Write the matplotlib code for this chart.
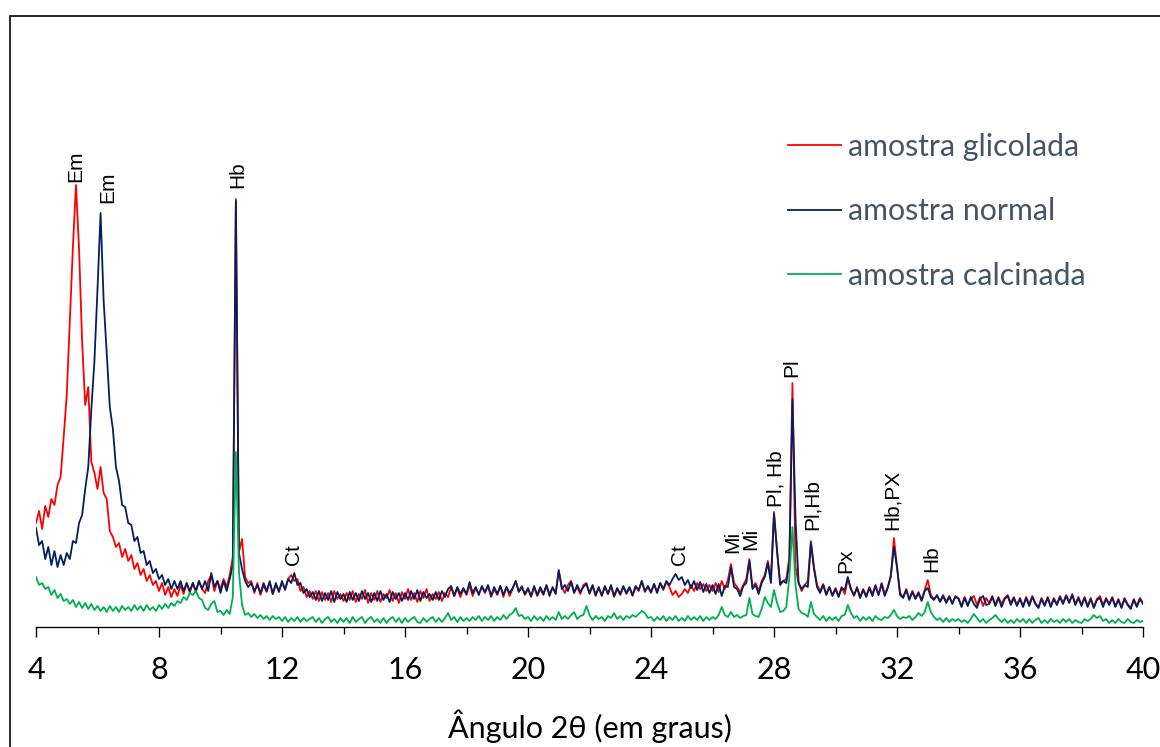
import numpy as np
import matplotlib
matplotlib.use("Agg")
import matplotlib.pyplot as plt
from matplotlib.patches import Rectangle
from matplotlib.ticker import MultipleLocator

# 2-theta scan, 0.1 degree step from 4 to 40 degrees
two_theta = np.round(np.arange(4.0, 40.0001, 0.1), 1)

# Intensities (arbitrary units), one row per degree
glicolada = [
    104, 116, 98, 121, 110, 128, 122, 142, 150, 190,    # 4
    232, 305, 380, 442, 378, 285, 222, 240, 165, 154,   # 5
    138, 160, 134, 128, 96, 90, 80, 84, 70, 78,         # 6
    66, 72, 58, 64, 52, 58, 46, 52, 42, 46,             # 7
    36, 44, 32, 40, 30, 38, 31, 42, 33, 44,             # 8
    34, 44, 35, 46, 38, 34, 46, 52, 36, 46,             # 9
    38, 48, 40, 52, 70, 428, 75, 88, 50, 44,            # 10
    46, 34, 44, 32, 42, 35, 46, 33, 42, 36,             # 11
    44, 38, 48, 52, 46, 48, 36, 40, 30, 36,             # 12
    28, 36, 26, 35, 27, 34, 25, 36, 28, 33,             # 13
    26, 34, 27, 36, 25, 33, 28, 37, 24, 34,             # 14
    27, 36, 25, 33, 29, 37, 26, 34, 24, 35,             # 15
    28, 38, 27, 34, 25, 36, 29, 38, 26, 33,             # 16
    28, 35, 26, 34, 30, 40, 31, 39, 30, 38,             # 17
    32, 42, 31, 39, 33, 40, 34, 41, 30, 38,             # 18
    32, 41, 30, 40, 31, 38, 46, 36, 41, 32,             # 19
    38, 30, 40, 31, 38, 32, 41, 33, 39, 34,             # 20
    56, 40, 34, 42, 46, 35, 40, 33, 42, 44,             # 21
    33, 41, 31, 39, 32, 40, 33, 41, 30, 38,             # 22
    32, 40, 33, 39, 31, 40, 36, 46, 35, 40,             # 23
    34, 43, 35, 44, 37, 45, 40, 32, 36, 30,             # 24
    33, 38, 34, 42, 36, 44, 38, 43, 36, 42,             # 25
    36, 44, 35, 46, 38, 47, 63, 44, 40, 35,             # 26
    42, 48, 68, 40, 44, 36, 46, 52, 66, 48,             # 27
    115, 77, 44, 46, 48, 70, 244, 60, 44, 36,           # 28
    42, 46, 86, 60, 42, 36, 43, 33, 40, 32,             # 29
    39, 31, 40, 33, 48, 38, 31, 40, 30, 38,             # 30
    31, 40, 33, 42, 32, 44, 33, 40, 50, 89,             # 31
    60, 34, 30, 38, 28, 36, 29, 35, 27, 37,             # 32
    47, 32, 28, 31, 26, 32, 25, 31, 24, 30,             # 33
    29, 21, 30, 22, 28, 31, 22, 30, 21, 29,             # 34
    24, 31, 22, 30, 23, 29, 32, 24, 30, 22,             # 35
    29, 21, 30, 23, 31, 24, 20, 29, 22, 30,             # 36
    21, 29, 23, 31, 24, 32, 25, 33, 23, 30,             # 37
    22, 30, 21, 29, 20, 28, 31, 22, 29, 23,             # 38
    30, 21, 28, 20, 29, 23, 19, 28, 21, 29,             # 39
    24,                                                 # 40
]

normal = [
    99, 82, 86, 68, 80, 62, 76, 60, 72, 62,             # 4
    74, 68, 86, 84, 104, 112, 138, 160, 218, 266,       # 5
    338, 414, 326, 274, 220, 198, 160, 146, 122, 120,   # 6
    104, 102, 86, 90, 74, 76, 62, 66, 54, 58,           # 7
    48, 52, 42, 48, 38, 46, 38, 46, 36, 44,             # 8
    36, 44, 36, 46, 38, 46, 36, 54, 40, 46,             # 9
    34, 46, 36, 48, 62, 426, 74, 58, 46, 40,            # 10
    44, 36, 42, 34, 44, 36, 45, 33, 44, 35,             # 11
    46, 37, 48, 44, 54, 42, 44, 34, 38, 30,             # 12
    35, 27, 36, 26, 34, 27, 36, 25, 35, 28,             # 13
    33, 25, 35, 27, 34, 26, 36, 28, 34, 25,             # 14
    34, 26, 36, 27, 33, 25, 35, 28, 34, 26,             # 15
    34, 27, 36, 28, 37, 26, 35, 29, 33, 27,             # 16
    35, 27, 36, 30, 38, 41, 31, 40, 33, 39,             # 17
    33, 45, 34, 40, 32, 41, 35, 42, 31, 40,             # 18
    33, 41, 32, 40, 34, 39, 46, 35, 40, 33,             # 19
    39, 31, 41, 32, 40, 33, 42, 31, 40, 33,             # 20
    57, 38, 42, 36, 45, 34, 42, 35, 40, 43,             # 21
    34, 42, 32, 40, 31, 41, 33, 42, 31, 39,             # 22
    33, 41, 34, 40, 32, 41, 37, 46, 36, 41,             # 23
    35, 43, 34, 44, 38, 46, 42, 48, 53, 47,             # 24
    50, 42, 47, 39, 46, 37, 45, 35, 43, 34,             # 25
    42, 33, 43, 31, 41, 40, 60, 40, 38, 31,             # 26
    41, 44, 66, 38, 42, 33, 44, 50, 64, 44,             # 27
    113, 75, 42, 46, 44, 64, 228, 108, 44, 38,          # 28
    42, 40, 84, 58, 40, 34, 42, 32, 40, 31,             # 29
    38, 30, 39, 37, 50, 38, 32, 39, 29, 37,             # 30
    30, 39, 31, 41, 32, 43, 31, 39, 52, 80,             # 31
    60, 32, 29, 37, 27, 35, 28, 34, 26, 36,             # 32
    39, 30, 27, 32, 25, 31, 24, 30, 23, 31,             # 33
    28, 20, 29, 21, 30, 23, 19, 28, 31, 22,             # 34
    23, 30, 21, 29, 20, 28, 31, 22, 29, 21,             # 35
    28, 20, 29, 21, 30, 23, 19, 28, 21, 29,             # 36
    20, 28, 22, 30, 23, 31, 24, 32, 22, 29,             # 37
    21, 29, 20, 28, 19, 27, 29, 20, 28, 22,             # 38
    29, 20, 27, 19, 28, 22, 18, 27, 20, 28,             # 39
    23,                                                 # 40
]

calcinada = [
    50, 42, 44, 38, 40, 32, 37, 29, 33, 26,             # 4
    28, 23, 27, 20, 25, 19, 24, 18, 23, 17,             # 5
    21, 16, 20, 15, 21, 16, 20, 15, 21, 17,             # 6
    20, 16, 22, 17, 21, 16, 22, 17, 20, 16,             # 7
    22, 18, 23, 19, 24, 21, 26, 24, 30, 27,             # 8
    34, 32, 36, 29, 27, 19, 17, 23, 26, 15,             # 9
    16, 12, 17, 13, 30, 175, 55, 22, 12, 14,            # 10
    10, 13, 9, 12, 8, 11, 7, 11, 8, 10,                 # 11
    6, 10, 5, 9, 6, 10, 5, 9, 6, 8,                     # 12
    10, 5, 9, 4, 8, 10, 5, 8, 4, 9,                     # 13
    5, 9, 4, 10, 5, 8, 10, 4, 8, 10,                    # 14
    5, 8, 4, 9, 4, 8, 10, 5, 9, 4,                      # 15
    9, 5, 8, 10, 5, 4, 9, 5, 8, 10,                     # 16
    5, 9, 5, 9, 14, 7, 10, 5, 10, 6,                    # 17
    9, 6, 10, 7, 11, 6, 10, 7, 11, 6,                   # 18
    10, 7, 12, 8, 12, 14, 19, 11, 12, 8,                # 19
    10, 6, 11, 7, 10, 6, 11, 7, 10, 7,                  # 20
    15, 8, 11, 8, 12, 15, 8, 11, 12, 21,                # 21
    12, 7, 11, 8, 10, 6, 11, 9, 14, 8,                  # 22
    11, 7, 11, 9, 12, 10, 13, 16, 14, 9,                # 23
    10, 6, 10, 7, 11, 6, 10, 7, 11, 6,                  # 24
    9, 6, 11, 7, 10, 7, 11, 6, 10, 7,                   # 25
    10, 8, 12, 20, 12, 10, 15, 10, 12, 9,               # 26
    11, 12, 29, 13, 11, 10, 18, 30, 24, 20,             # 27
    37, 24, 15, 16, 20, 50, 100, 42, 18, 14,            # 28
    13, 10, 25, 13, 10, 7, 11, 6, 10, 7,                # 29
    10, 6, 11, 12, 22, 14, 9, 11, 6, 10,                # 30
    7, 10, 6, 11, 8, 7, 10, 9, 12, 17,                  # 31
    11, 8, 10, 9, 11, 7, 10, 14, 11, 15,                # 32
    25, 15, 10, 7, 9, 5, 9, 5, 8, 6,                    # 33
    8, 5, 7, 4, 8, 13, 9, 5, 8, 4,                      # 34
    7, 9, 12, 8, 5, 8, 4, 7, 4, 8,                      # 35
    5, 8, 4, 8, 4, 7, 9, 4, 7, 4,                       # 36
    8, 5, 7, 4, 8, 5, 8, 4, 7, 5,                       # 37
    4, 8, 6, 8, 12, 9, 11, 6, 8, 4,                     # 38
    7, 4, 8, 5, 4, 8, 5, 4, 7, 5,                       # 39
    6,                                                  # 40
]

series_names = ["amostra glicolada", "amostra normal", "amostra calcinada"]
series_colors = ["#FF0000", "#002060", "#00B050"]

# Mineral identifications: label, 2-theta position, height of label base
peak_labels = ["Em", "Em", "Hb", "Ct", "Ct", "Mi", "Mi", "Pl, Hb", "Pl",
               "Pl,Hb", "Px", "Hb,PX", "Hb"]
peak_label_x = [5.30, 6.34, 10.55, 12.39, 24.93, 26.65, 27.24, 28.08, 28.57,
                29.25, 30.33, 31.85, 33.12]
peak_label_y = [445, 424, 439, 62, 62, 74, 77, 120, 250, 97, 54, 97, 55]

x_ticks = [4, 8, 12, 16, 20, 24, 28, 32, 36, 40]

W, H = 1160, 747
fig = plt.figure(figsize=(W / 100, H / 100), dpi=100)

# outer chart frame
fig.patches.append(Rectangle((9.5 / W, -0.1), 1.2, 1 - 15.5 / H + 0.1,
                             transform=fig.transFigure, fill=False,
                             edgecolor="#1a1a1a", linewidth=1.3))

ax = fig.add_axes([36 / W, 1 - 627 / H, (1143 - 36) / W, (627 - 17) / H])
ax.set_xlim(4, 40)
ax.set_ylim(0, 610)

for vals, name, col in zip([glicolada, normal, calcinada], series_names, series_colors):
    ax.plot(two_theta, vals, color=col, linewidth=1.3, label=name)

for lab, lx, ly in zip(peak_labels, peak_label_x, peak_label_y):
    ax.text(lx, ly, lab, rotation=90, ha="center", va="bottom",
            fontsize=15, family=["Liberation Sans", "DejaVu Sans"], color="black")

for side in ["top", "right", "left"]:
    ax.spines[side].set_visible(False)
ax.spines["bottom"].set_linewidth(0.95)
ax.spines["bottom"].set_color("black")
ax.set_yticks([])
ax.set_xticks(x_ticks)
ax.xaxis.set_minor_locator(MultipleLocator(2))
ax.tick_params(axis="x", which="major", direction="out", length=7.2, width=0.95,
               color="black", pad=13.5, labelsize=22)
ax.tick_params(axis="x", which="minor", direction="out", length=5, width=0.95, color="black")
for t in ax.get_xticklabels():
    t.set_family(["Lato", "DejaVu Sans"])

ax.set_xlabel("Ângulo 2θ (em graus)", fontsize=22, family=["Lato", "DejaVu Sans"],
              labelpad=18.5)

leg = ax.legend(loc="upper left", bbox_to_anchor=(788 / W, 1 - 133 / H),
                bbox_transform=fig.transFigure, frameon=False,
                prop={"family": ["Lato", "DejaVu Sans"], "size": 21.8},
                handlelength=1.75, handletextpad=0.22, labelspacing=1.2,
                borderaxespad=0, borderpad=0)
for t in leg.get_texts():
    t.set_color("#44546A")
for h in leg.get_lines():
    h.set_linewidth(1.3)

fig.savefig("out.png", dpi=100)
